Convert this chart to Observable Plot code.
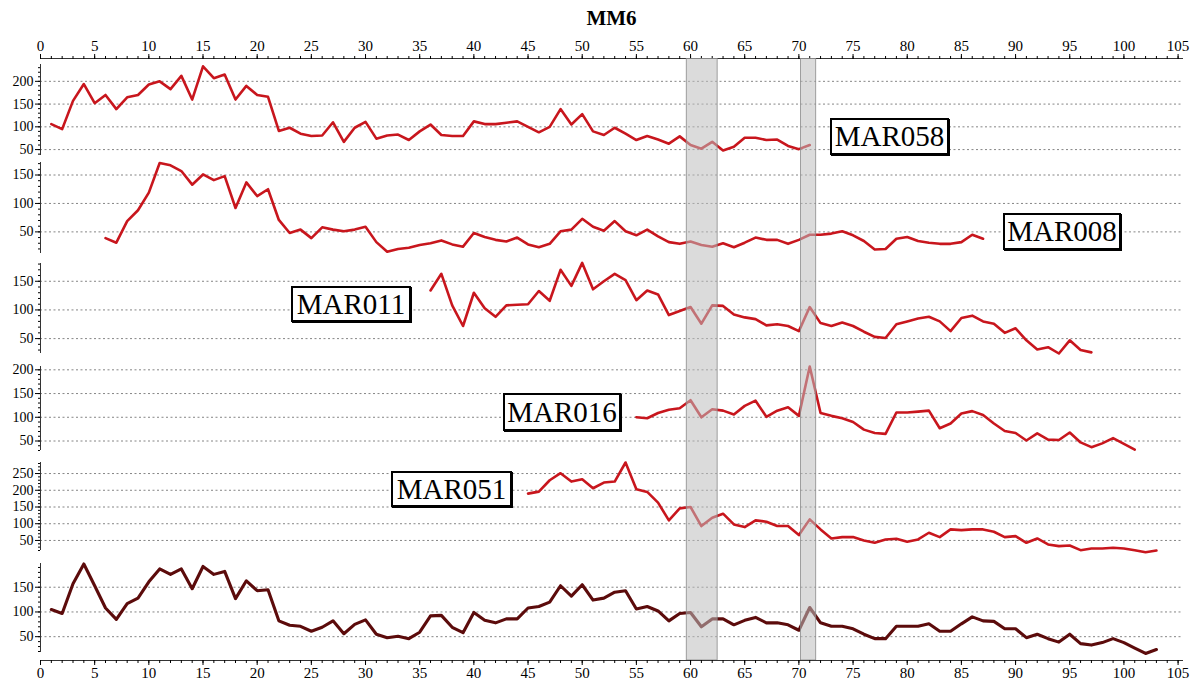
<!DOCTYPE html>
<html><head><meta charset="utf-8">
<script src="https://cdn.jsdelivr.net/npm/d3@7"></script>
<script src="https://cdn.jsdelivr.net/npm/@observablehq/plot@0.6"></script>
<style>
body{margin:0;background:#fff;}
#wrap{position:relative;width:1193px;height:682px;overflow:hidden;font-family:"Liberation Serif",serif;}
#wrap svg{position:absolute;left:0;}
.lbl{position:absolute;box-sizing:border-box;border:2px solid #000;background:#fff;font-family:"Liberation Serif",serif;font-size:29px;text-align:center;color:#000;box-shadow:1px 1px 0 #000;}
#title{position:absolute;left:0;width:1223px;top:6px;text-align:center;font-weight:bold;font-size:21px;font-family:"Liberation Serif",serif;}
</style></head><body><div id="wrap"><div id="title">MM6</div></div>
<script>
// ---------- data ----------
const xTicks = [0,5,10,15,20,25,30,35,40,45,50,55,60,65,70,75,80,85,90,95,100,105];
const bands = [[59.65, 62.5], [70.2, 71.6]];

const mar058Start = 1;
const mar058 = [106,95,157,194,152,170,139,165,170,193,200,183,212,160,233,207,215,160,190,170,
  166,91,98,85,80,81,110,67,98,111,74,81,83,71,90,105,82,80,80,112,
  106,106,109,112,100,88,100,139,105,128,90,82,98,85,71,80,72,63,79,60,
  52,67,48,56,76,76,71,72,58,51,60];

const mar008Start = 6;
const mar008 = [39,31,69,88,119,
  171,167,157,133,151,141,148,92,137,113,
  125,71,48,54,39,58,54,51,54,59,
  32,15,20,22,27,30,35,28,24,48,
  41,36,33,40,28,23,29,51,54,73,
  59,52,69,51,44,54,42,32,29,33,
  27,24,30,23,31,40,36,36,29,36,
  45,45,47,51,44,34,19,20,38,41,
  34,31,29,29,32,45,38];

const mar011Start = 36;
const mar011 = [134,163,108,72,130,
  103,88,108,109,110,133,116,170,142,182,
  136,150,163,152,117,134,127,91,98,105,
  76,108,107,92,87,84,73,75,72,63,
  105,77,72,78,72,62,53,51,75,80,
  85,88,80,63,86,90,80,76,60,68,
  47,31,35,24,47,30,26];

const mar016Start = 55;
const mar016 = [100,98,109,116,119,136,
  100,117,114,106,124,135,101,114,121,103,
  207,109,103,98,90,74,67,65,110,110,
  112,114,77,87,108,113,105,87,71,67,
  51,66,53,52,68,47,37,45,56,44,32];

const mar051Start = 45;
const mar051 = [190,196,230,251,226,233,
  206,223,226,283,203,195,163,110,146,150,
  93,118,130,98,90,110,106,93,93,66,
  113,83,56,60,60,50,43,53,55,46,
  53,73,60,83,81,83,83,76,60,63,
  43,56,38,33,35,21,26,26,28,26,
  21,15,20];

const totalStart = 1;
const total = [105,97,157,197,153,108,85,117,128,161,
  187,176,187,147,192,176,182,127,163,143,
  145,82,73,71,61,69,82,56,75,84,
  55,48,51,46,59,92,93,69,58,99,
  83,78,86,86,108,111,120,153,132,155,
  124,128,140,143,106,111,102,82,97,99,
  70,86,86,74,83,89,78,78,74,63,
  109,78,71,71,66,55,46,46,71,71,
  71,76,61,61,76,90,82,81,66,66,
  48,55,46,39,55,36,33,38,46,38,
  27,16,24];

// ---------- layout ----------
const W = 1193, ML = 40, MR = 10, XMAX = 105.5;
const RED = "#c8161d", DARK = "#5c0b0b";
const font = {fontFamily:"'Liberation Serif', serif", fontSize:"14px", background:"transparent", overflow:"visible", color:"#000"};

const panels = [
  {name:"MAR058", start:mar058Start, values:mar058, top:64,  bottom:155, domain:[37,237], ticks:[50,100,150,200], color:RED, sw:2.6,
   box:{left:830, top:118, w:119, h:37}},
  {name:"MAR008", start:mar008Start, values:mar008, top:162, bottom:253, domain:[12,172], ticks:[50,100,150], color:RED, sw:2.6,
   box:{left:1003, top:213, w:118, h:37}},
  {name:"MAR011", start:mar011Start, values:mar011, top:263, bottom:353, domain:[24,181], ticks:[50,100,150], color:RED, sw:2.6,
   box:{left:291, top:286, w:120, h:36}},
  {name:"MAR016", start:mar016Start, values:mar016, top:366, bottom:450, domain:[30,207], ticks:[50,100,150,200], color:RED, sw:2.6,
   box:{left:503, top:393, w:118, h:38}},
  {name:"MAR051", start:mar051Start, values:mar051, top:462, bottom:550, domain:[20,283], ticks:[50,100,150,200,250], color:RED, sw:2.6,
   box:{left:391, top:471, w:121, h:36}},
  {name:null, start:totalStart, values:total, top:563, bottom:652, domain:[18,198], ticks:[50,100,150], color:DARK, sw:3.1}
];

const wrap = document.getElementById("wrap");
function place(svg, top){ svg.style.top = top + "px"; wrap.appendChild(svg); }

// top axis
place(Plot.plot({
  width:W, height:64, marginLeft:ML, marginRight:MR, marginTop:58, marginBottom:6,
  style:{...font, fontSize:"15px"},
  x:{domain:[0,XMAX], axis:null},
  y:{domain:[0,1], axis:null},
  marks:[
    Plot.ruleY([1], {stroke:"#333"}),
    Plot.axisX(d3.range(0,106,1), {anchor:"top", tickSize:3, tickFormat:()=>"", label:null}),
    Plot.axisX(xTicks, {anchor:"top", tickSize:5, tickPadding:3, label:null})
  ]
}), 0);

// panels
for (const p of panels) {
  const data = p.values.map((v,i)=>({x:p.start+i, y:v}));
  const minor = d3.range(Math.ceil(p.domain[0]/10)*10, p.domain[1], 10);
  place(Plot.plot({
    width:W, height:p.bottom-p.top, marginLeft:ML, marginRight:MR, marginTop:0, marginBottom:0,
    style:font,
    x:{domain:[0,XMAX], axis:null},
    y:{domain:p.domain, axis:null},
    marks:[
      Plot.gridY(p.ticks, {stroke:"#666", strokeOpacity:1, strokeDasharray:"2,2.5", strokeWidth:0.8}),
      Plot.ruleX([0], {stroke:"#333"}),
      Plot.axisY(minor, {tickSize:2, tickFormat:()=>"", label:null}),
      Plot.axisY(p.ticks, {tickSize:5, tickPadding:2, label:null}),
      Plot.line(data, {x:"x", y:"y", stroke:p.color, strokeWidth:p.sw, strokeLinejoin:"round"})
    ]
  }), p.top);
  if (p.name) {
    const d = document.createElement("div");
    d.className = "lbl";
    d.textContent = p.name;
    Object.assign(d.style, {left:p.box.left+"px", top:p.box.top+"px", width:p.box.w+"px", height:p.box.h+"px", lineHeight:(p.box.h-4)+"px"});
    wrap.appendChild(d);
  }
}

// bottom axis
place(Plot.plot({
  width:W, height:30, marginLeft:ML, marginRight:MR, marginTop:2, marginBottom:22,
  style:{...font, fontSize:"15px"},
  x:{domain:[0,XMAX], axis:null},
  y:{domain:[0,1], axis:null},
  marks:[
    Plot.ruleY([0], {stroke:"#333"}),
    Plot.axisX(d3.range(0,106,1), {anchor:"bottom", tickSize:3, tickFormat:()=>"", label:null}),
    Plot.axisX(xTicks, {anchor:"bottom", tickSize:5, tickPadding:2, label:null})
  ]
}), 652);

// gray bands overlay
const ov = Plot.plot({
  width:W, height:602, marginLeft:ML, marginRight:MR, marginTop:0, marginBottom:0,
  style:{background:"transparent"},
  x:{domain:[0,XMAX], axis:null},
  marks:[
    Plot.rect(bands, {x1:d=>d[0], x2:d=>d[1], fill:"#bdbdbd", fillOpacity:0.55, stroke:"#8a8a8a", strokeWidth:0.8})
  ]
});
ov.style.pointerEvents = "none";
place(ov, 58);
</script>
</body></html>
